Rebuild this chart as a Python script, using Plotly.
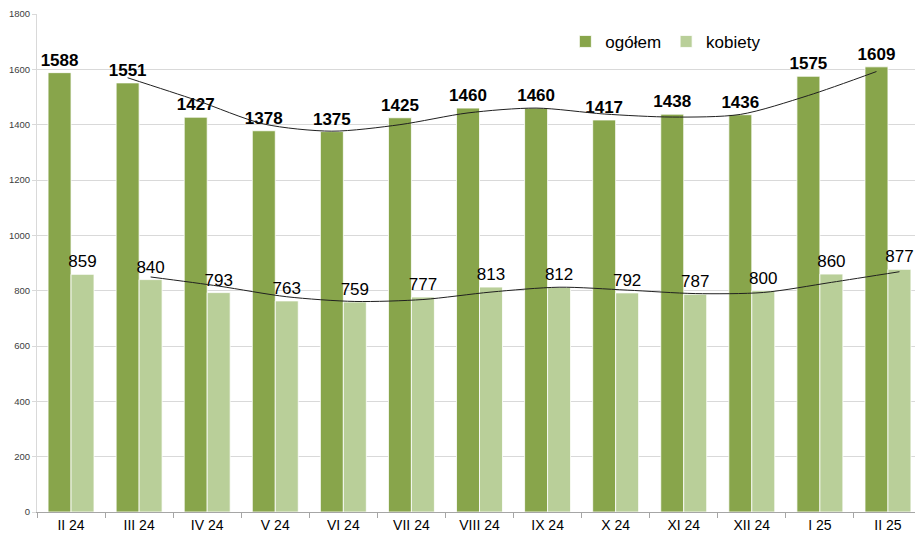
import plotly.graph_objects as go
import pandas as pd

months = ["II 24", "III 24", "IV 24", "V 24", "VI 24", "VII 24", "VIII 24",
          "IX 24", "X 24", "XI 24", "XII 24", "I 25", "II 25"]
ogolem = [1588, 1551, 1427, 1378, 1375, 1425, 1460, 1460, 1417, 1438, 1436, 1575, 1609]
kobiety = [859, 840, 793, 763, 759, 777, 813, 812, 792, 787, 800, 860, 877]

c_og = "#88a54b"
c_kob = "#b9cf99"
font = "Liberation Sans, Arial, sans-serif"

idx = list(range(len(months)))
off = 0.169

ma_og = pd.Series(ogolem).rolling(2).mean()
ma_kob = pd.Series(kobiety).rolling(2).mean()

fig = go.Figure()
fig.add_trace(go.Bar(
    x=idx, y=ogolem, name="ogółem", marker=dict(color=c_og, line=dict(color="white", width=0.8)),
    text=[str(v) for v in ogolem], textposition="outside", constraintext="none",
    textfont=dict(family=font, size=17, color="black", weight="bold"), cliponaxis=False))
fig.add_trace(go.Bar(
    x=idx, y=kobiety, name="kobiety", marker=dict(color=c_kob, line=dict(color="white", width=0.8)),
    text=[str(v) for v in kobiety], textposition="outside", constraintext="none",
    textfont=dict(family=font, size=17, color="black"), cliponaxis=False))

fig.add_trace(go.Scatter(
    x=[i - off for i in idx[1:]], y=ma_og[1:], mode="lines",
    line=dict(color="#202020", width=1, shape="spline", smoothing=0.8),
    showlegend=False, hoverinfo="skip"))
fig.add_trace(go.Scatter(
    x=[i + off for i in idx[1:]], y=ma_kob[1:], mode="lines",
    line=dict(color="#202020", width=1, shape="spline", smoothing=0.8),
    showlegend=False, hoverinfo="skip"))

fig.update_layout(
    width=915, height=528,
    margin=dict(l=29, r=1, t=6, b=24),
    plot_bgcolor="white", paper_bgcolor="white",
    barmode="group", bargap=0.325, bargroupgap=0,
    font=dict(family=font, color="black"),
    legend=dict(orientation="h", x=0.597, y=0.944, xanchor="left", yanchor="middle",
                font=dict(family=font, size=17, color="black"),
                bgcolor="rgba(0,0,0,0)", itemwidth=30, tracegroupgap=0),
    xaxis=dict(range=[-0.5, len(months) - 0.5], tickvals=idx, ticktext=months,
               ticks="", showgrid=False, zeroline=False,
               showline=True, linecolor="#a6a6a6", linewidth=1,
               tickfont=dict(family=font, size=14, color="black"),
               minor=dict(tickvals=[i + 0.5 for i in range(-1, len(months))],
                          ticks="outside", ticklen=5, tickcolor="#a6a6a6", showgrid=False)),
    yaxis=dict(range=[0, 1800], dtick=200, showgrid=True, gridcolor="#d9d9d9", gridwidth=1,
               zeroline=False, showline=True, linecolor="#d9d9d9",
               ticks="outside", ticklen=4, tickcolor="#d9d9d9",
               tickfont=dict(family=font, size=9.5, color="#404040")),
)

fig.write_html("out.html")
